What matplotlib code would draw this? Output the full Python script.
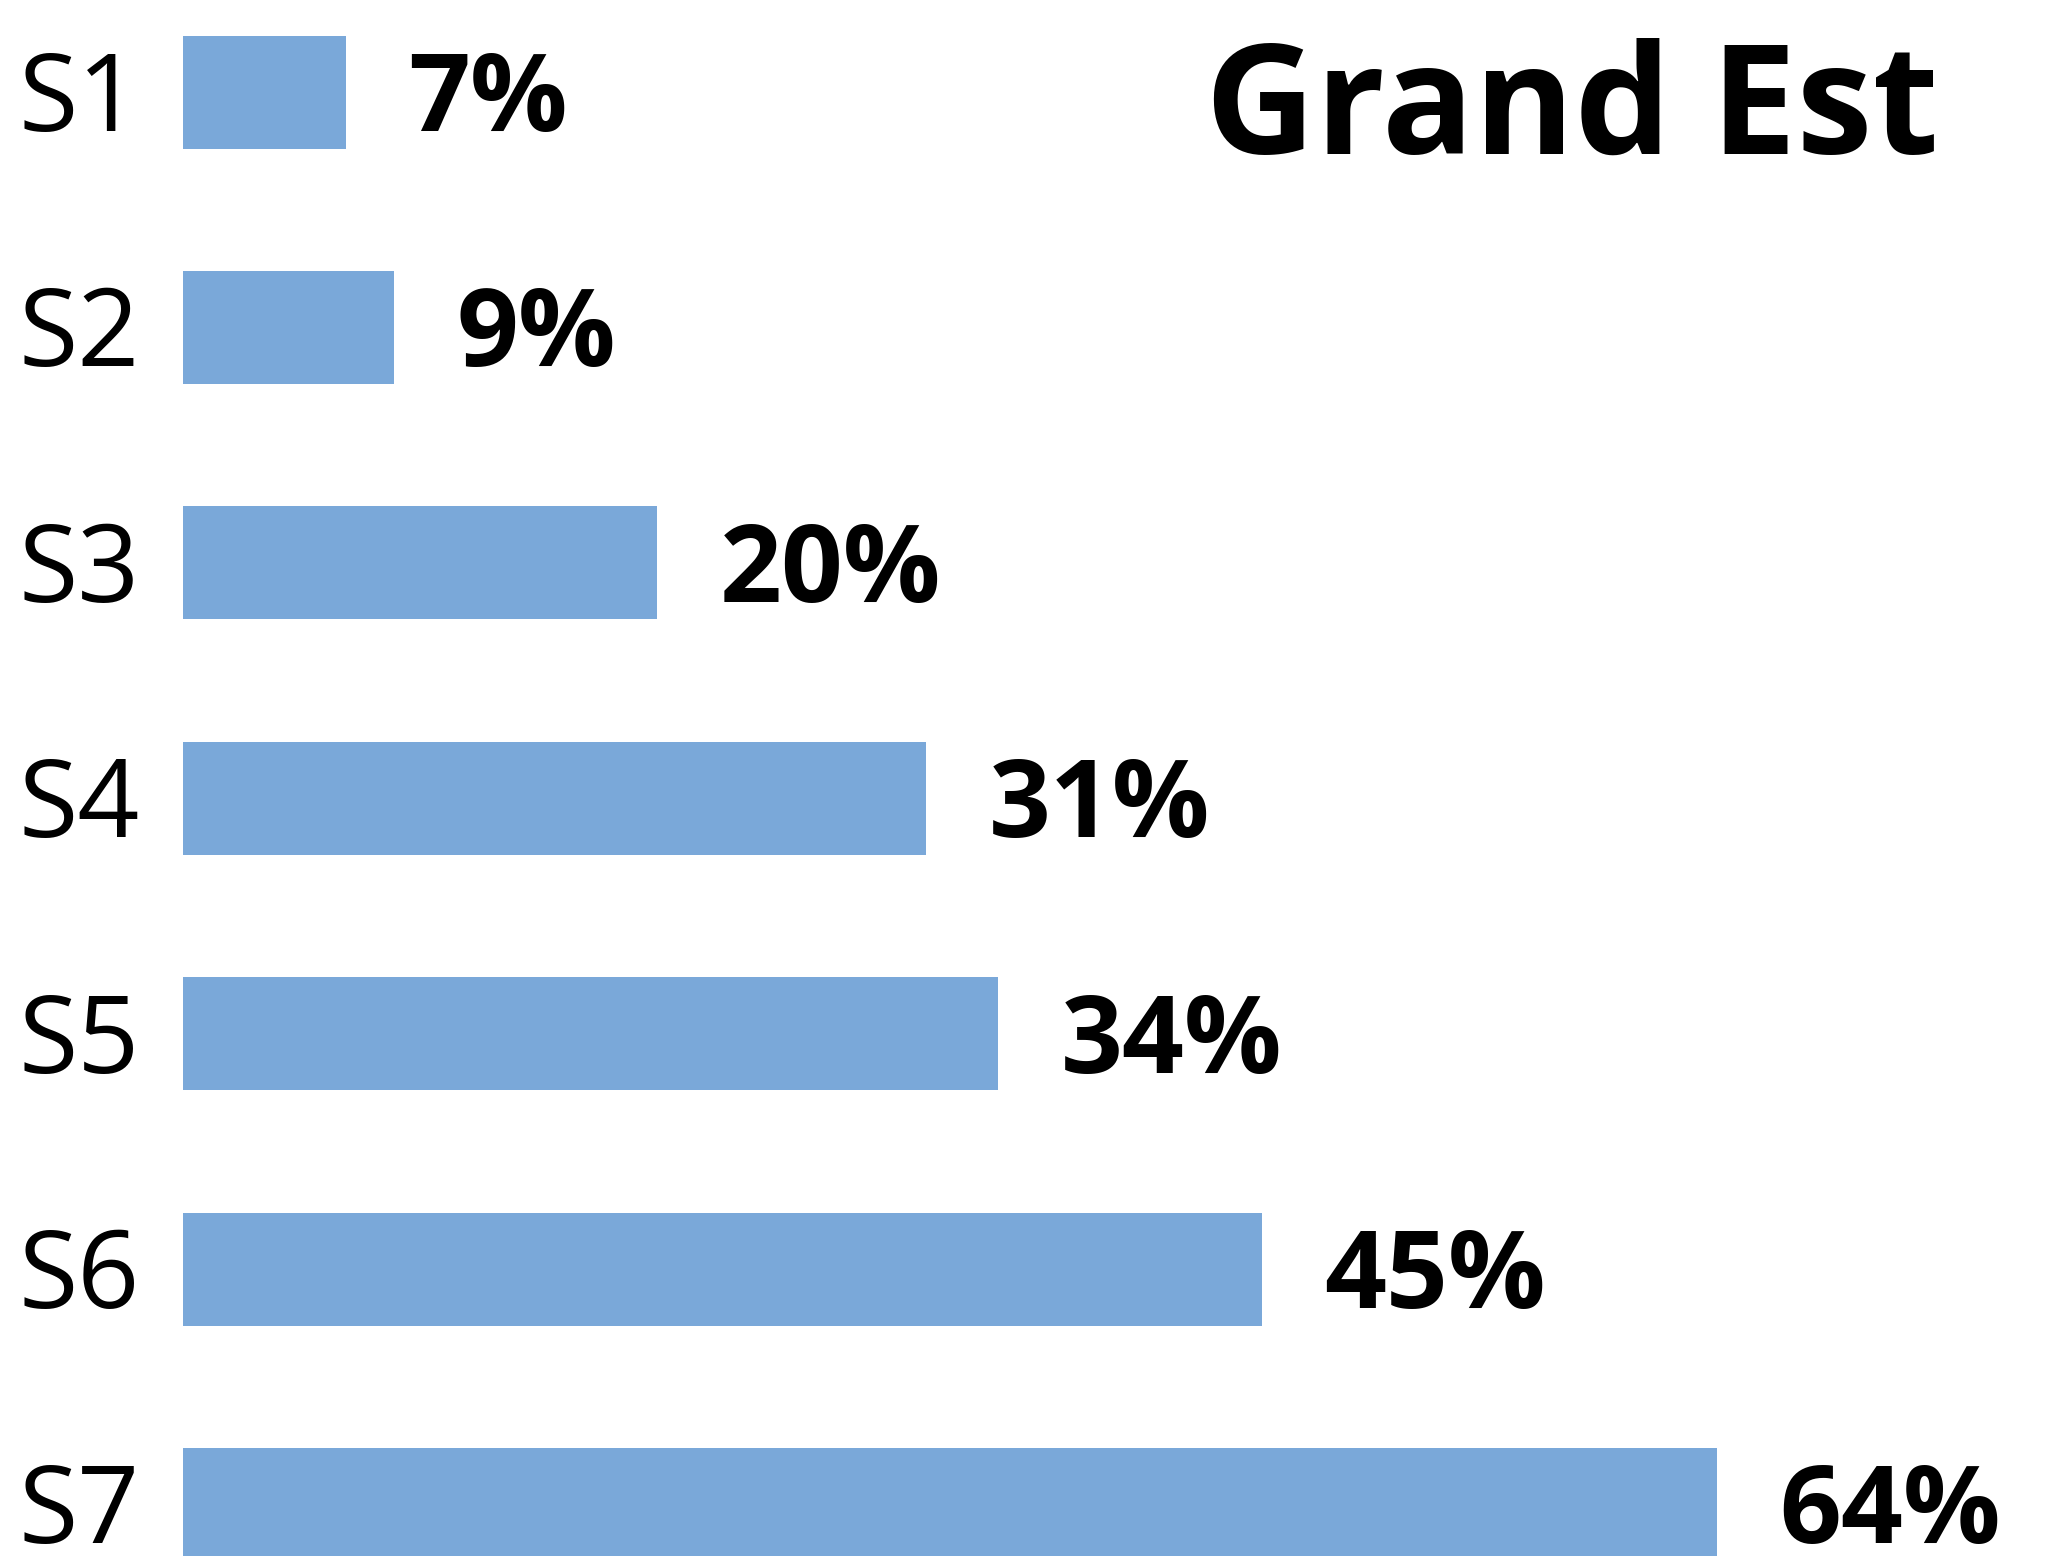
import matplotlib.pyplot as plt

categories = ["S1", "S2", "S3", "S4", "S5", "S6", "S7"]
values = [6.8, 8.8, 19.8, 31, 34, 45, 64]
value_labels = ["7%", "9%", "20%", "31%", "34%", "45%", "64%"]
title = "Grand Est"

bar_color = "#7aa8d9"

fig = plt.figure(figsize=(20.47, 15.56), dpi=100)
ax = fig.add_axes([0, 0, 1, 1])

pos = list(range(len(categories)))
ax.barh(pos, values, height=0.48, color=bar_color)

ax.set_xlim(-7.63, 77.77)
ax.set_ylim(6.219, -0.391)
ax.axis("off")

for y, cat, v, lab in zip(pos, categories, values, value_labels):
    ax.annotate(cat, xy=(0, y), xytext=(-31, -28), textcoords="offset points",
                ha="right", va="baseline", fontsize=78, family="Open Sans")
    ax.annotate(lab, xy=(v, y), xytext=(45, -28), textcoords="offset points",
                ha="left", va="baseline", fontsize=78, fontweight="bold",
                family="Open Sans")

fig.text(0.947, 0.901, title, ha="right", va="baseline", fontsize=110,
         fontweight="bold", family="Open Sans")

fig.savefig("out.png", dpi=100)
